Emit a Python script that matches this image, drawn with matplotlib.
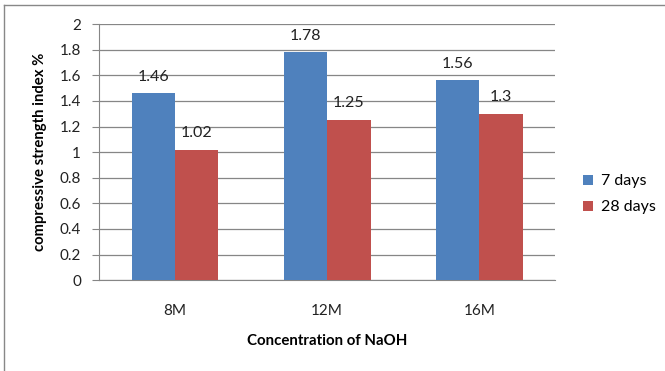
import matplotlib.pyplot as plt
import numpy as np

categories = ["8M", "12M", "16M"]
days_7 = [1.46, 1.78, 1.56]
days_28 = [1.02, 1.25, 1.30]
series_names = ["7 days", "28 days"]
yticks = [0, 0.2, 0.4, 0.6, 0.8, 1, 1.2, 1.4, 1.6, 1.8, 2]

plt.rcParams['font.family'] = ['Lato', 'DejaVu Sans']

fig = plt.figure(figsize=(6.65, 3.71), dpi=100)
ax = fig.add_axes([0.149, 0.245, 0.686, 0.690])

x = np.arange(len(categories))
w = 0.285
b1 = ax.bar(x - w / 2, days_7, w, color='#4F81BD', label=series_names[0], zorder=3)
b2 = ax.bar(x + w / 2, days_28, w, color='#C0504D', label=series_names[1], zorder=3)

for bars, vals in ((b1, days_7), (b2, days_28)):
    for r, v in zip(bars, vals):
        ax.annotate('{0:g}'.format(v), (r.get_x() + r.get_width() / 2, v),
                    xytext=(0, 7), textcoords='offset points',
                    ha='center', va='bottom', fontsize=11.5, color='#222222')

ax.set_xlim(-0.5, 2.5)
ax.set_ylim(0, 2)
ax.set_yticks(yticks)
ax.set_yticklabels(['{0:g}'.format(t) for t in yticks], fontsize=11)
ax.set_xticks(x)
ax.set_xticklabels(categories, fontsize=11)
ax.yaxis.grid(True, color='#868686', linewidth=0.9, zorder=0)
ax.set_axisbelow(True)

for s in ('top', 'right'):
    ax.spines[s].set_visible(False)
ax.spines['left'].set_color('#868686')
ax.spines['bottom'].set_color('#868686')
ax.tick_params(axis='y', length=5, color='#868686', pad=8, labelcolor='#222222')
ax.tick_params(axis='x', length=0, pad=17, labelcolor='#222222')

ax.set_xlabel('Concentration of NaOH', fontsize=10.8, fontweight='bold', labelpad=12)
ax.set_ylabel('compressive strength index %', fontsize=10.7, fontweight='bold', labelpad=9)

ax.legend(loc='center left', bbox_to_anchor=(1.03, 0.335), frameon=False,
          fontsize=11.5, handlelength=0.6, handleheight=0.6, handletextpad=0.5,
          labelspacing=0.75)

# outer chart frame
fig.add_artist(plt.Line2D([4 / 665, 4 / 665], [0, 1 - 5 / 371],
                          transform=fig.transFigure, color='#888888', lw=1))
fig.add_artist(plt.Line2D([4 / 665, 1], [1 - 5 / 371, 1 - 5 / 371],
                          transform=fig.transFigure, color='#888888', lw=1))

fig.savefig('out.png', dpi=100)
